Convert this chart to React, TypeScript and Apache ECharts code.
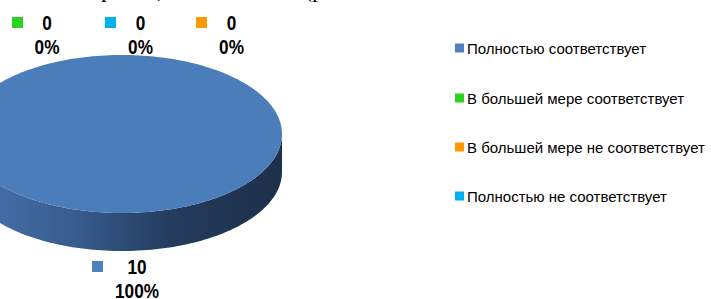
import React, { useEffect, useRef } from "react";
import * as echarts from "echarts";

const categories = [
  "Полностью соответствует",
  "В большей мере соответствует",
  "В большей мере не соответствует",
  "Полностью не соответствует",
];
const counts = [10, 0, 0, 0];
const colors = ["#4a7dba", "#2ad41e", "#ff9900", "#00b0f0"];
const markerColors = ["#4f81bd", "#2ad41e", "#ff9900", "#00b0f0"];

// data label placement (Excel-style) per category index
const labelPos: Record<number, { mx: number; my: number; tx: number; ty: number }> = {
  0: { mx: 92, my: 261, tx: 137, ty: 279 },
  1: { mx: 12, my: 17, tx: 47, ty: 35 },
  3: { mx: 105, my: 17, tx: 140.5, ty: 35 },
  2: { mx: 196, my: 17, tx: 231.5, ty: 35 },
};

const CX = 122, CY = 134, RX = 160, RY = 79, DEPTH = 38;

function pt(th: number, dy = 0): number[] {
  return [CX + RX * Math.sin(th), CY - RY * Math.cos(th) + dy];
}
function arc(a: number, b: number, dy = 0): number[][] {
  const n = Math.max(2, Math.ceil(((b - a) / (2 * Math.PI)) * 240));
  const out: number[][] = [];
  for (let i = 0; i <= n; i++) out.push(pt(a + ((b - a) * i) / n, dy));
  return out;
}

export default function App() {
  const ref = useRef<HTMLDivElement>(null);
  useEffect(() => {
    if (!ref.current) return;
    const chart = echarts.init(ref.current, null, { renderer: "svg" });
    const total = counts.reduce((s, v) => s + v, 0);
    const starts: number[] = [];
    let acc = 0;
    counts.forEach((v) => {
      starts.push(acc);
      acc += v;
    });

    const renderItem = (params: any, api: any) => {
      const i = params.dataIndex;
      const v = api.value(0);
      if (!total || v <= 0) return { type: "group", children: [] };
      const a = (starts[i] / total) * Math.PI * 2;
      const b = ((starts[i] + v) / total) * Math.PI * 2;
      const full = b - a >= Math.PI * 2 - 1e-9;
      const children: any[] = [];
      const s = Math.max(a, Math.PI / 2);
      const e = Math.min(b, (Math.PI * 3) / 2);
      if (e > s) {
        const top = arc(s, e, 0);
        const bot = arc(s, e, DEPTH).reverse();
        children.push({
          type: "polygon",
          shape: { points: top.concat(bot) },
          style: {
            fill: {
              type: "linear",
              x: CX - RX,
              y: 0,
              x2: CX + RX,
              y2: 0,
              global: true,
              colorStops: [
                { offset: 0, color: "#4a75ae" },
                { offset: 0.35, color: "#375c8e" },
                { offset: 0.65, color: "#243c5e" },
                { offset: 1, color: "#1e2f4a" },
              ],
            },
          },
        });
      }
      const topPts = full ? arc(0, Math.PI * 2) : [[CX, CY]].concat(arc(a, b));
      children.push({
        type: "polygon",
        shape: { points: topPts },
        style: { fill: colors[i] },
      });
      return { type: "group", children };
    };

    const graphics: any[] = [];
    // clipped text line above the chart
    const topBits = [
      { t: "р", x: 101 },
      { t: ",", x: 157 },
      { t: "(р", x: 304 },
    ];
    topBits.forEach((b) =>
      graphics.push({
        type: "text",
        left: b.x,
        top: -23,
        style: { text: b.t, font: '24px "Liberation Serif", serif', fill: "#000" },
      })
    );
    // data labels
    counts.forEach((v, i) => {
      const p = labelPos[i];
      if (!p) return;
      const pct = total ? Math.round((v / total) * 100) : 0;
      graphics.push({
        type: "rect",
        shape: { x: p.mx, y: p.my, width: 11, height: 11 },
        style: { fill: markerColors[i] },
      });
      graphics.push({
        type: "text",
        x: p.tx,
        y: p.ty,
        scaleX: 0.82,
        style: {
          text: `${v}\n${pct}%`,
          font: 'bold 21px "Liberation Sans", Arial, sans-serif',
          lineHeight: 24,
          align: "center",
          verticalAlign: "middle",
          fill: "#000",
        },
      });
    });
    // legend
    const rowY = [48, 98, 147, 196];
    categories.forEach((c, i) => {
      graphics.push({
        type: "rect",
        shape: { x: 455, y: rowY[i] - 4.5, width: 9, height: 9 },
        style: { fill: markerColors[i] },
      });
      graphics.push({
        type: "text",
        x: 467,
        y: rowY[i],
        style: {
          text: c,
          font: '15px "Liberation Sans", Arial, sans-serif',
          verticalAlign: "middle",
          fill: "#000",
        },
      });
    });

    chart.setOption({
      animation: false,
      backgroundColor: "#ffffff",
      series: [
        {
          type: "custom",
          coordinateSystem: "none",
          renderItem,
          data: counts.map((v, i) => ({ value: [v], name: categories[i] })),
          silent: true,
        },
      ],
      graphic: graphics,
    });
    return () => chart.dispose();
  }, []);
  return (
    <div
      ref={ref}
      style={{ position: "fixed", left: 0, top: 0, width: 711, height: 299 }}
    />
  );
}
